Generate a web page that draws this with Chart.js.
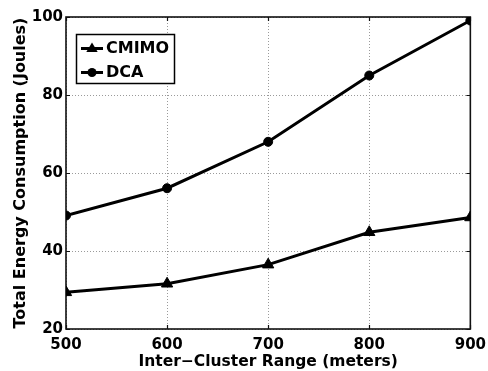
<!DOCTYPE html>
<html><head><meta charset="utf-8">
<script src="https://cdn.jsdelivr.net/npm/chart.js@4"></script>
<style>html,body{margin:0;padding:0;background:#fff}</style>
</head><body>
<canvas id="c" width="488" height="371" style="display:block"></canvas>
<script>
const ranges = [500, 600, 700, 800, 900];
const cmimo = [29.4, 31.6, 36.5, 44.8, 48.6];
const dca = [49.1, 56.1, 68.0, 85.0, 99.1];
const seriesNames = ['CMIMO', 'DCA'];
const xTicks = [500, 600, 700, 800, 900];
const yTicks = [20, 40, 60, 80, 100];
const xTitle = 'Inter\u2212Cluster Range (meters)';
const yTitle = 'Total Energy Consumption (Joules)';

const FONT = "'DejaVu Sans', sans-serif";

function pts(vals){ return ranges.map((x,i)=>({x:x, y:vals[i]})); }

const boxPlugin = {
  id: 'box',
  beforeDatasetsDraw(chart){
    const {ctx, chartArea:a, scales} = chart;
    ctx.save();
    ctx.strokeStyle = '#111';
    ctx.lineWidth = 1.2;
    ctx.beginPath();
    xTicks.forEach(v=>{
      const x = Math.round(scales.x.getPixelForValue(v))+0.5;
      ctx.moveTo(x, a.bottom); ctx.lineTo(x, a.bottom-4);
      ctx.moveTo(x, a.top); ctx.lineTo(x, a.top+4);
    });
    yTicks.forEach(v=>{
      const y = Math.round(scales.y.getPixelForValue(v))+0.5;
      ctx.moveTo(a.left, y); ctx.lineTo(a.left+4, y);
      ctx.moveTo(a.right, y); ctx.lineTo(a.right-4, y);
    });
    ctx.stroke();
    ctx.lineWidth = 1.6;
    ctx.strokeRect(a.left, a.top, a.right-a.left, a.bottom-a.top);
    ctx.restore();
  },
  afterDraw(chart){
    const ctx = chart.ctx;
    const bx = 76, by = 34, bw = 98, bh = 49;
    ctx.save();
    ctx.fillStyle = '#fff';
    ctx.fillRect(bx, by, bw, bh);
    ctx.strokeStyle = '#000';
    ctx.lineWidth = 1.5;
    ctx.strokeRect(bx+0.5, by+0.5, bw, bh);
    const rows = [48.5, 72.5];
    chart.data.datasets.forEach((ds, i)=>{
      const y = rows[i];
      ctx.strokeStyle = '#000';
      ctx.lineWidth = 3;
      ctx.beginPath(); ctx.moveTo(81, y); ctx.lineTo(103, y); ctx.stroke();
      ctx.fillStyle = '#000';
      ctx.beginPath();
      if (ds.pointStyle === 'triangle') {
        const r = 6;
        ctx.moveTo(92, y - r); ctx.lineTo(92 + r*0.95, y + r*0.6); ctx.lineTo(92 - r*0.95, y + r*0.6); ctx.closePath();
      } else {
        ctx.arc(92, y, 4.5, 0, Math.PI*2);
      }
      ctx.fill();
      ctx.font = 'bold 16px ' + FONT;
      ctx.textBaseline = 'middle';
      ctx.textAlign = 'left';
      ctx.fillText(ds.label, 106, y + 0.5);
    });
    ctx.restore();
  }
};

new Chart(document.getElementById('c'), {
  type: 'line',
  data: {
    datasets: [
      { label: seriesNames[0], data: pts(cmimo), borderColor: '#000', backgroundColor: '#000',
        borderWidth: 3, pointStyle: 'triangle', pointRadius: 6.5, pointBorderWidth: 1, tension: 0 },
      { label: seriesNames[1], data: pts(dca), borderColor: '#000', backgroundColor: '#000',
        borderWidth: 3, pointStyle: 'circle', pointRadius: 4.5, pointBorderWidth: 1, tension: 0 }
    ]
  },
  options: {
    responsive: false,
    animation: false,
    devicePixelRatio: 1,
    layout: { padding: { top: 17, right: 17, left: 0, bottom: 0 } },
    plugins: { legend: { display: false }, tooltip: { enabled: false } },
    scales: {
      x: {
        type: 'linear', min: 500, max: 900,
        afterBuildTicks(s){ s.ticks = xTicks.map(v=>({value:v})); },
        afterFit(s){ s.height = 42; },
        ticks: { color: '#000', font: { family: FONT, weight: 'bold', size: 15, lineHeight: 1.9 }, padding: 2, maxRotation: 0 },
        grid: { color: '#9a9a9a', lineWidth: 1, drawTicks: false },
        border: { display: false, dash: [1, 2] },
        title: { display: true, text: xTitle, color: '#000', font: { family: FONT, weight: 'bold', size: 15.5 }, padding: { top: 0, bottom: 0 } }
      },
      y: {
        min: 20, max: 100,
        afterBuildTicks(s){ s.ticks = yTicks.map(v=>({value:v})); },
        afterFit(s){ s.width = 66; },
        ticks: { color: '#000', font: { family: FONT, weight: 'bold', size: 15 }, padding: 3 },
        grid: { color: '#9a9a9a', lineWidth: 1, drawTicks: false },
        border: { display: false, dash: [1, 2] },
        title: { display: true, text: yTitle, color: '#000', font: { family: FONT, weight: 'bold', size: 16 }, padding: { top: 11, bottom: 0 } }
      }
    }
  },
  plugins: [boxPlugin]
});
</script>
</body></html>
